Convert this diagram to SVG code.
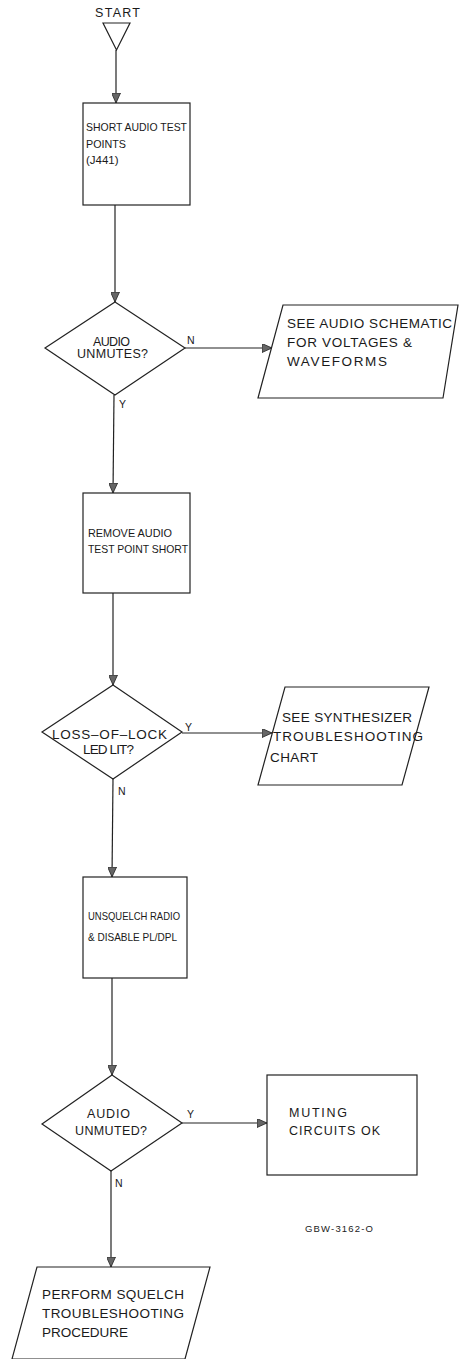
<svg xmlns="http://www.w3.org/2000/svg" width="459" height="1359" viewBox="0 0 459 1359">
<defs>
<marker id="arr" markerUnits="userSpaceOnUse" markerWidth="11" markerHeight="9" refX="10" refY="4.5" orient="auto">
<path d="M0,0 L10,4.5 L0,9 z" fill="#666" stroke="#222" stroke-width="0.8"/>
</marker>
<style>
.s{fill:#fff;stroke:#222;stroke-width:1.2}
.c{fill:none;stroke:#222;stroke-width:1.2}
text{font-family:"Liberation Sans",Arial,Helvetica,sans-serif;fill:#1a1a1a}
.t{font-size:12.5px}
.b{font-size:11.5px}
.p{font-size:13.5px}
.l{font-size:10.5px}
</style>
</defs>
<rect width="459" height="1359" fill="#fff"/>

<g id="connectors">
<line class="c" x1="116" y1="50" x2="116" y2="103" marker-end="url(#arr)"/>
<line class="c" x1="115" y1="205" x2="115" y2="302" marker-end="url(#arr)"/>
<line class="c" x1="185" y1="348" x2="272" y2="348" marker-end="url(#arr)"/>
<line class="c" x1="114" y1="395" x2="113" y2="493" marker-end="url(#arr)"/>
<line class="c" x1="113" y1="593" x2="113" y2="685" marker-end="url(#arr)"/>
<line class="c" x1="182" y1="733" x2="272" y2="733" marker-end="url(#arr)"/>
<line class="c" x1="113" y1="779" x2="112" y2="877" marker-end="url(#arr)"/>
<line class="c" x1="112" y1="978" x2="112" y2="1075" marker-end="url(#arr)"/>
<line class="c" x1="182" y1="1123" x2="267" y2="1123" marker-end="url(#arr)"/>
<line class="c" x1="111" y1="1171" x2="111" y2="1267" marker-end="url(#arr)"/>
<text class="l" x="187" y="344">N</text>
<text class="l" x="119" y="408">Y</text>
<text class="l" x="185" y="731">Y</text>
<text class="l" x="118" y="795">N</text>
<text class="l" x="187" y="1118">Y</text>
<text class="l" x="115" y="1187">N</text>
</g>

<g id="start">
<text class="t" x="95" y="17" textLength="45" lengthAdjust="spacing">START</text>
<path class="s" d="M103,23 L130,23 L116.5,50 z"/>
</g>

<g id="short-audio">
<rect class="s" x="83" y="103" width="107" height="102"/>
<text class="b" x="86" y="131" textLength="101" lengthAdjust="spacingAndGlyphs">SHORT AUDIO TEST</text>
<text class="b" x="86" y="148" textLength="40" lengthAdjust="spacingAndGlyphs">POINTS</text>
<text class="b" x="86" y="164">(J441)</text>
</g>

<g id="audio-unmutes">
<path class="s" d="M115,302 L185,348 L115,395 L45,348 z"/>
<text class="t" x="93" y="346" textLength="37" lengthAdjust="spacing">AUDIO</text>
<text class="t" x="77" y="358" textLength="71" lengthAdjust="spacing">UNMUTES?</text>
</g>

<g id="audio-schematic">
<path class="s" d="M283,305 L458,305 L443,398 L258,398 z"/>
<text class="p" x="287" y="328" textLength="165" lengthAdjust="spacing">SEE AUDIO SCHEMATIC</text>
<text class="p" x="287" y="347" textLength="125" lengthAdjust="spacing">FOR VOLTAGES &amp;</text>
<text class="p" x="287" y="366" textLength="100" lengthAdjust="spacing">WAVEFORMS</text>
</g>

<g id="remove-short">
<rect class="s" x="83" y="493" width="107" height="100"/>
<text class="b" x="88" y="537" textLength="84" lengthAdjust="spacingAndGlyphs">REMOVE AUDIO</text>
<text class="b" x="88" y="553" textLength="100" lengthAdjust="spacingAndGlyphs">TEST POINT SHORT</text>
</g>

<g id="loss-of-lock">
<path class="s" d="M113,685 L182,732 L113,779 L42,732 z"/>
<text class="p" x="52" y="739" textLength="115" lengthAdjust="spacing">LOSS–OF–LOCK</text>
<text class="p" x="83" y="754" textLength="51" lengthAdjust="spacing">LED LIT?</text>
</g>

<g id="synthesizer-chart">
<path class="s" d="M285,687 L429,687 L402,785 L258,785 z"/>
<text class="p" x="282" y="722" textLength="130" lengthAdjust="spacing">SEE SYNTHESIZER</text>
<text class="p" x="273" y="741" textLength="150" lengthAdjust="spacing">TROUBLESHOOTING</text>
<text class="p" x="270" y="762" textLength="48" lengthAdjust="spacing">CHART</text>
</g>

<g id="unsquelch">
<rect class="s" x="83" y="877" width="104" height="101"/>
<text class="b" x="88" y="920" textLength="92" lengthAdjust="spacingAndGlyphs">UNSQUELCH RADIO</text>
<text class="b" x="88" y="941" textLength="89" lengthAdjust="spacingAndGlyphs">&amp; DISABLE PL/DPL</text>
</g>

<g id="audio-unmuted">
<path class="s" d="M112,1075 L182,1123 L111,1171 L42,1124 z"/>
<text class="t" x="87" y="1118" textLength="43" lengthAdjust="spacing">AUDIO</text>
<text class="t" x="75" y="1135" textLength="72" lengthAdjust="spacing">UNMUTED?</text>
</g>

<g id="muting-ok">
<rect class="s" x="267" y="1075" width="150" height="100"/>
<text class="t" x="289" y="1117" textLength="58" lengthAdjust="spacing">MUTING</text>
<text class="t" x="289" y="1135" textLength="91" lengthAdjust="spacing">CIRCUITS OK</text>
</g>

<text x="305" y="1232" style="font-size:9.5px" textLength="68" lengthAdjust="spacing">GBW-3162-O</text>

<g id="squelch-procedure">
<path class="s" d="M37,1267 L210,1267 L185,1359 L12,1359 z"/>
<text class="p" x="42" y="1299" textLength="142" lengthAdjust="spacing">PERFORM SQUELCH</text>
<text class="p" x="42" y="1318" textLength="142" lengthAdjust="spacing">TROUBLESHOOTING</text>
<text class="p" x="42" y="1337" textLength="86" lengthAdjust="spacing">PROCEDURE</text>
</g>
</svg>
